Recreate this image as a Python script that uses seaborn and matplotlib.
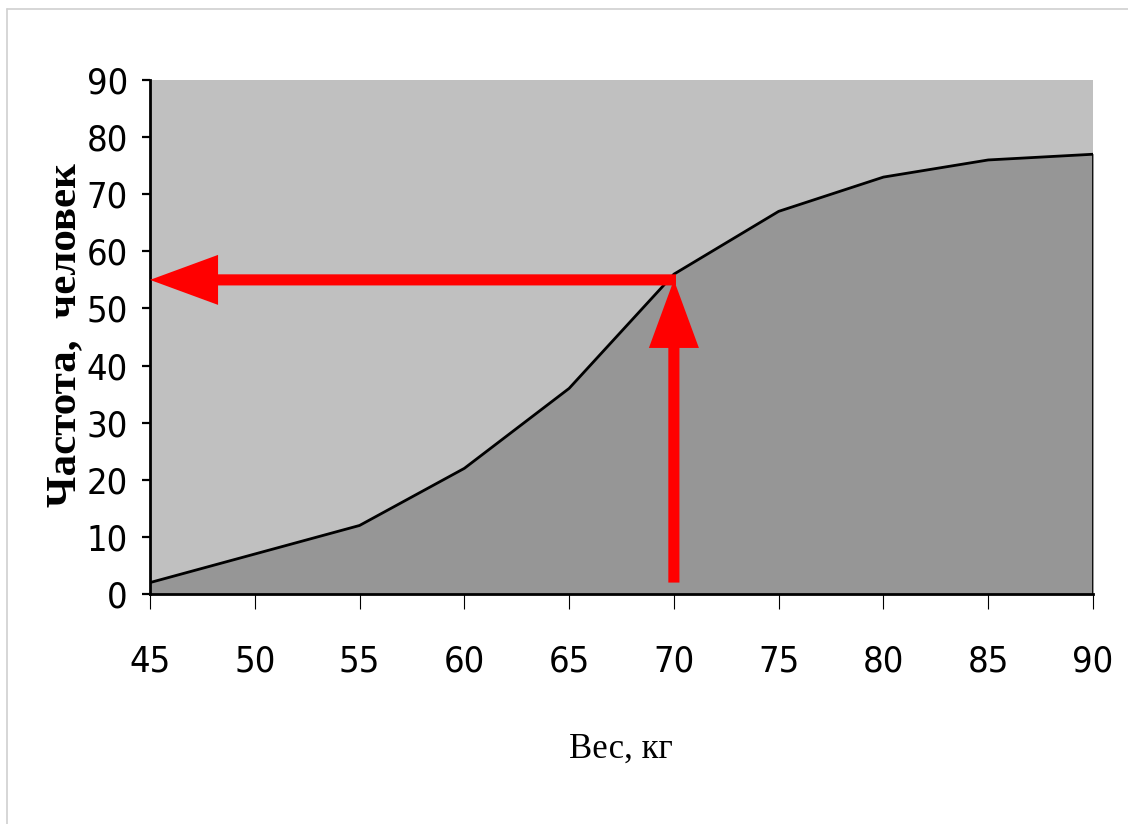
import matplotlib
matplotlib.use("Agg")
import matplotlib.pyplot as plt
import seaborn as sns
import pandas as pd
from matplotlib.lines import Line2D

# данные: кумулята по весу
ves = [45, 50, 55, 60, 65, 70, 75, 80, 85, 90]
chastota = [2, 7, 12, 22, 36, 56, 67, 73, 76, 77]
x_ticks = [45, 50, 55, 60, 65, 70, 75, 80, 85, 90]
y_ticks = [0, 10, 20, 30, 40, 50, 60, 70, 80, 90]

# стрелки: от 70 кг вверх до кривой, потом влево к оси
strelka_x = 70
strelka_y = 55
strelka_niz = 2

df = pd.DataFrame({"ves": ves, "chastota": chastota})

sns.set_style("white")
plt.rcParams["font.family"] = ["DejaVu Sans"]
plt.rcParams["font.stretch"] = "condensed"
plt.rcParams["text.color"] = "black"

fig = plt.figure(figsize=(11.28, 8.24), dpi=100)
ax = fig.add_axes([150 / 1128, 1 - 594 / 824, (1093 - 150) / 1128, (594 - 80) / 824])

ax.set_facecolor("#C0C0C0")
ax.fill_between(df["ves"], df["chastota"], 0, color="#969696", zorder=1)
sns.lineplot(data=df, x="ves", y="chastota", color="black", lw=2, ax=ax, zorder=2)
ax.vlines(ves[-1], 0, chastota[-1], color="black", lw=2, zorder=2)

ax.set_xlim(45, 90)
ax.set_ylim(0, 90)
ax.set_xticks(x_ticks)
ax.set_yticks(y_ticks)
ax.tick_params(axis="x", direction="out", length=11, width=0.8, pad=25,
               labelsize=26, color="black", labelcolor="black", bottom=True)
ax.tick_params(axis="y", direction="out", length=6, width=1.6, pad=10,
               labelsize=26, color="black", labelcolor="black", left=True)

for s in ["top", "right"]:
    ax.spines[s].set_visible(False)
for s in ["left", "bottom"]:
    ax.spines[s].set_color("black")
    ax.spines[s].set_linewidth(2)

strelka = dict(arrowstyle="simple,head_length=4.9,head_width=3.6,tail_width=0.8",
               mutation_scale=10, color="#FF0000", lw=0, shrinkA=0, shrinkB=0)
ax.annotate("", xy=(strelka_x, strelka_y), xytext=(strelka_x, strelka_niz),
            arrowprops=strelka, zorder=4)
ax.annotate("", xy=(ves[0], strelka_y), xytext=(strelka_x + 0.1, strelka_y),
            arrowprops=strelka, zorder=4, annotation_clip=False)

ax.set_xlabel("Вес, кг", family=["Liberation Serif", "DejaVu Serif"], fontsize=25,
              stretch="normal", color="black")
ax.set_ylabel("Частота,  человек", family=["Liberation Serif", "DejaVu Serif"],
              fontsize=31, fontweight="bold", stretch="normal", color="black")
ax.xaxis.set_label_coords((621 - 150) / (1093 - 150), -(733 - 594) / (594 - 80))
ax.yaxis.set_label_coords(-(150 - 84) / (1093 - 150), (594 - 335) / (594 - 80))

# рамка листа
fig.add_artist(Line2D([7 / 1128, 1], [1 - 9 / 824, 1 - 9 / 824], color="#D0D0D0", lw=1.2))
fig.add_artist(Line2D([7 / 1128, 7 / 1128], [0, 1 - 9 / 824], color="#D0D0D0", lw=1.2))

fig.savefig("out.png", dpi=100, facecolor="white")
